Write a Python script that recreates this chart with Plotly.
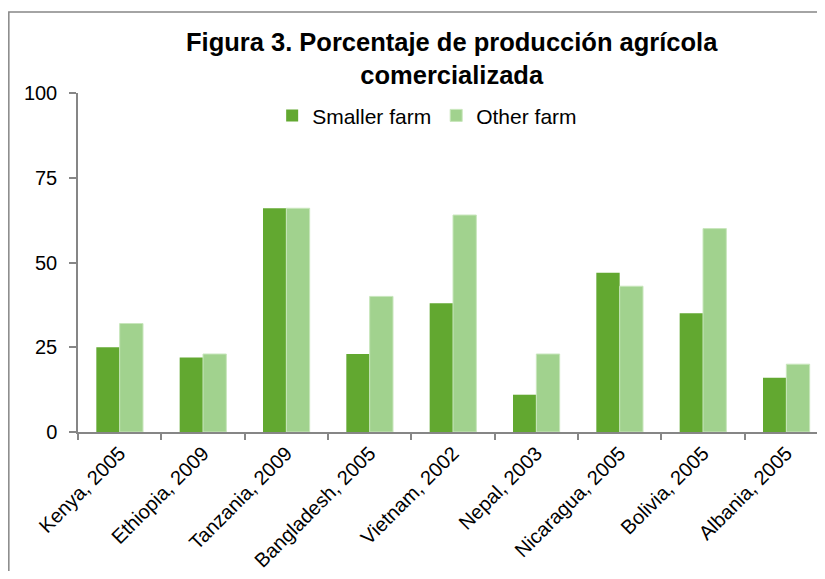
import plotly.graph_objects as go

categories = ["Kenya, 2005", "Ethiopia, 2009", "Tanzania, 2009", "Bangladesh, 2005",
              "Vietnam, 2002", "Nepal, 2003", "Nicaragua, 2005", "Bolivia, 2005", "Albania, 2005"]
smaller_farm = [25, 22, 66, 23, 38, 11, 47, 35, 16]
other_farm = [32, 23, 66, 40, 64, 23, 43, 60, 20]
y_ticks = [0, 25, 50, 75, 100]

FONT = "Liberation Sans, Arial, sans-serif"
OFF = 8  # page body margin
W, H = 820, 579 - 2 * OFF
ml = 77.7 - OFF
mt = 93.3 - OFF
mb = H - (431.7 - OFF)
mr = 0
pw = W - ml - mr
ph = H - mt - mb


def px_x(p):
    return (p - OFF - ml) / pw


def px_y(p):
    return (H - mb - (p - OFF)) / ph


fig = go.Figure()
fig.add_trace(go.Bar(name="Smaller farm", x=categories, y=smaller_farm,
                     marker=dict(color="#62A830", line=dict(width=0))))
fig.add_trace(go.Bar(name="Other farm", x=categories, y=other_farm,
                     marker=dict(color="#A1D28E", line=dict(color="#C8E6BC", width=1))))

fig.update_layout(
    width=W, height=H,
    margin=dict(l=ml, r=mr, t=mt, b=mb, autoexpand=False),
    paper_bgcolor="white", plot_bgcolor="white",
    font=dict(family=FONT, color="black", size=20),
    barmode="group", bargap=0.44, bargroupgap=0,
    title=dict(text="<b>Figura 3. Porcentaje de producción agrícola<br>comercializada</b>",
               x=(451.7 - OFF) / W, xref="container", xanchor="center",
               y=1 - 43 / H, yref="container", yanchor="middle",
               font=dict(family=FONT, size=25.5, color="black")),
    legend=dict(orientation="h", x=px_x(427), xanchor="center", y=px_y(108 + OFF), yanchor="middle",
                font=dict(family=FONT, size=21, color="black"), bgcolor="rgba(0,0,0,0)",
                itemwidth=30, traceorder="normal"),
    showlegend=True,
    xaxis=dict(type="category", tickangle=-45, showline=True, linecolor="#868686", linewidth=1.5,
               ticks="outside", tickson="boundaries", ticklen=6, tickcolor="#868686", tickwidth=1.5,
               showgrid=False, tickfont=dict(family=FONT, size=20, color="black")),
    yaxis=dict(range=[0, 100], tickvals=y_ticks, showline=True, linecolor="#868686", linewidth=1.5,
               ticks="outside", ticklen=7, tickcolor="#868686", tickwidth=1.5, showgrid=False,
               zeroline=False, ticklabelstandoff=8,
               tickfont=dict(family=FONT, size=20, color="black")),
)

# outer chart frame: only its left and top edges fall inside the picture
bx0, by_top, bx1, by_bot = px_x(8.5), px_y(12.5), px_x(900), px_y(700)
fig.add_shape(type="path", xref="paper", yref="paper",
              path=f"M {bx0},{by_bot} L {bx0},{by_top} L {bx1},{by_top}",
              line=dict(color="#868686", width=1.5), layer="above")

fig.write_html("out.html")
